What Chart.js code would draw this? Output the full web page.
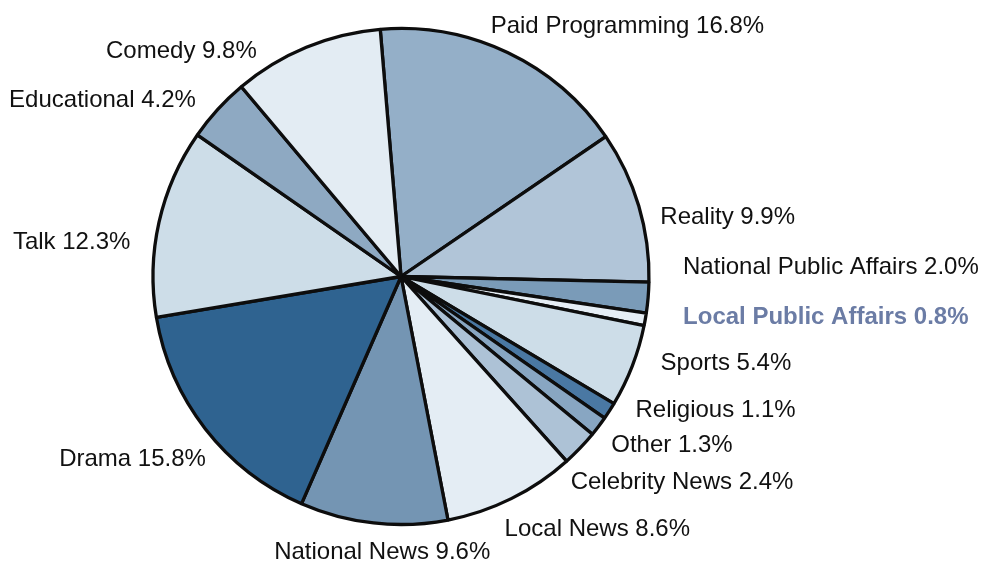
<!DOCTYPE html>
<html>
<head>
<meta charset="utf-8">
<script src="https://cdn.jsdelivr.net/npm/chart.js@4/dist/chart.umd.min.js"></script>
<style>
  html, body { margin: 0; padding: 0; background: #ffffff; }
  #wrap { width: 982px; height: 565px; }
</style>
</head>
<body>
<div id="wrap"><canvas id="pie" width="982" height="565"></canvas></div>
<script>
// Programme genres, clockwise from just left of 12 o'clock
const genres = [
  'Paid Programming', 'Reality', 'National Public Affairs', 'Local Public Affairs',
  'Sports', 'Religious', 'Other', 'Celebrity News', 'Local News',
  'National News', 'Drama', 'Talk', 'Educational', 'Comedy'
];
// Share of airtime, percent
const shares = [16.8, 9.9, 2.0, 0.8, 5.4, 1.1, 1.3, 2.4, 8.6, 9.6, 15.8, 12.3, 4.2, 9.8];
const sliceColors = [
  '#94afc8', '#b1c5d8', '#7a9bb8', '#e6eef5', '#cddde8', '#4a78a3', '#88a6c2',
  '#adc2d6', '#e4edf4', '#7495b3', '#2f6390', '#cddde8', '#8ea9c2', '#e3ecf3'
];
// The genre whose label is highlighted
const highlighted = 'Local Public Affairs';

// Label placement: nudge (dx, dy) from a point just outside each slice's mid-angle
const labelNudge = [
  [-22, -15], [10, 15], [23, -31], [26, -4], [17, -7], [16, -7], [3, 12],
  [-18, 26], [-12, 20], [10, 17], [10, 23], [-17, 23], [-13, -1], [-45, 15]
];

const outsideLabels = {
  id: 'outsideLabels',
  afterDatasetsDraw(chart) {
    const ctx = chart.ctx;
    const meta = chart.getDatasetMeta(0);
    ctx.save();
    ctx.textBaseline = 'middle';
    meta.data.forEach((arc, i) => {
      const mid = (arc.startAngle + arc.endAngle) / 2;
      const r = arc.outerRadius + 12;
      const x = arc.x + Math.cos(mid) * r + labelNudge[i][0];
      const y = arc.y + Math.sin(mid) * r + labelNudge[i][1];
      const deg = ((mid + Math.PI / 2) * 180 / Math.PI + 360) % 360;
      let align = 'left';
      if (deg > 175 && deg < 200) align = 'center';
      else if (deg >= 200) align = 'right';
      const text = genres[i] + ' ' + shares[i].toFixed(1) + '%';
      if (genres[i] === highlighted) {
        ctx.font = 'bold 24px "Liberation Sans", Arial, sans-serif';
        ctx.fillStyle = '#6b7ca5';
      } else {
        ctx.font = '24px "Liberation Sans", Arial, sans-serif';
        ctx.fillStyle = '#111111';
      }
      ctx.textAlign = align;
      ctx.fillText(text, x, y);
    });
    ctx.restore();
  }
};

new Chart(document.getElementById('pie'), {
  type: 'pie',
  data: {
    labels: genres,
    datasets: [{
      data: shares,
      backgroundColor: sliceColors,
      borderColor: '#0d0d0d',
      borderWidth: 3.3
    }]
  },
  options: {
    responsive: false,
    animation: false,
    rotation: -4.8,
    radius: 248,
    layout: { padding: { left: 0, right: 180, top: 0, bottom: 12 } },
    plugins: {
      legend: { display: false },
      tooltip: { enabled: false }
    }
  },
  plugins: [outsideLabels]
});
</script>
</body>
</html>
